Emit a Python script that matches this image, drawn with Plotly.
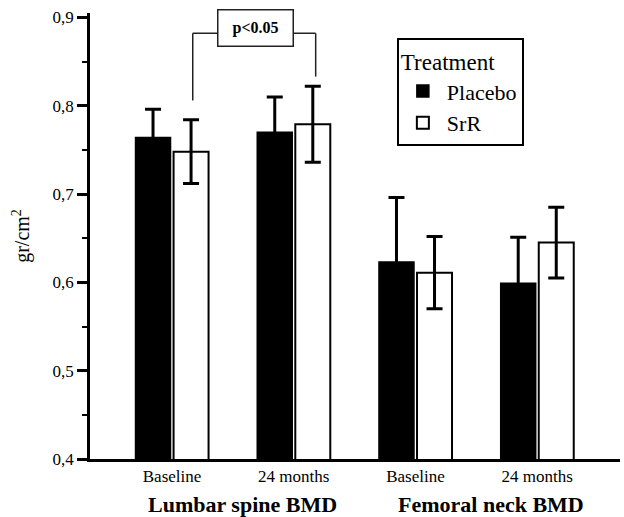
import plotly.graph_objects as go

timepoints = ["Baseline", "24 months", "Baseline", "24 months"]
sites = ["Lumbar spine BMD", "Femoral neck BMD"]
placebo_mean = [0.764, 0.770, 0.623, 0.599]
placebo_sd = [0.032, 0.040, 0.073, 0.052]
srr_mean = [0.748, 0.779, 0.611, 0.645]
srr_sd = [0.036, 0.043, 0.041, 0.040]
xpos = [0, 1, 2, 3]

FONT = "Liberation Serif"

fig = go.Figure()
fig.add_trace(go.Bar(
    x=xpos, y=placebo_mean, name="Placebo",
    marker=dict(color="black", line=dict(color="black", width=1.5)),
    error_y=dict(type="data", array=placebo_sd, visible=True, color="black", thickness=3, width=8),
))
fig.add_trace(go.Bar(
    x=xpos, y=srr_mean, name="SrR",
    marker=dict(color="white", line=dict(color="black", width=2)),
    error_y=dict(type="data", array=srr_sd, visible=True, color="black", thickness=3, width=8),
))

fig.update_layout(
    width=624, height=517,
    margin=dict(l=90, r=4, t=13, b=58),
    paper_bgcolor="white", plot_bgcolor="white",
    barmode="group", bargap=0.375, bargroupgap=0.08,
    separators=",.",
    font=dict(family=FONT, color="black", size=17),
    showlegend=True,
    legend=dict(
        title=dict(text="Treatment", font=dict(size=23, family=FONT, color="black")),
        font=dict(size=22, family=FONT, color="black"),
        x=0.579, y=0.943, xanchor="left", yanchor="top",
        itemwidth=38,
        bordercolor="black", borderwidth=2, bgcolor="white",
    ),
    xaxis=dict(
        range=[-0.674, 3.68],
        tickvals=xpos, ticktext=timepoints,
        showline=True, linecolor="black", linewidth=2.5,
        ticks="", showgrid=False, zeroline=False,
        tickfont=dict(size=17, family=FONT, color="black"),
    ),
    yaxis=dict(
        range=[0.4, 0.905],
        tickvals=[0.4, 0.5, 0.6, 0.7, 0.8, 0.9], tickformat=".1f",
        showline=True, linecolor="black", linewidth=2.5,
        ticks="outside", ticklen=10, tickwidth=2.5, tickcolor="black",
        minor=dict(tickvals=[0.45, 0.55, 0.65, 0.75, 0.85], ticks="outside", ticklen=5, tickwidth=2, tickcolor="black", showgrid=False),
        showgrid=False, zeroline=False,
        tickfont=dict(size=17, family=FONT, color="black"),
        title=dict(text="gr/cm<sup>2</sup>", font=dict(size=20, family=FONT, color="black"), standoff=18),
    ),
)

# group labels
fig.add_annotation(x=0.58, y=-0.101, xref="x", yref="paper", text="<b>" + sites[0] + "</b>",
                   showarrow=False, font=dict(size=22, family=FONT, color="black"), yanchor="middle")
fig.add_annotation(x=2.62, y=-0.101, xref="x", yref="paper", text="<b>" + sites[1] + "</b>",
                   showarrow=False, font=dict(size=22, family=FONT, color="black"), yanchor="middle")

# significance bracket
lc = dict(color="#222", width=1.5)
fig.add_shape(type="line", x0=0.17, x1=0.17, y0=0.806, y1=0.882, xref="x", yref="y", line=lc)
fig.add_shape(type="line", x0=1.18, x1=1.18, y0=0.833, y1=0.882, xref="x", yref="y", line=lc)
fig.add_shape(type="line", x0=0.17, x1=1.18, y0=0.882, y1=0.882, xref="x", yref="y", line=lc)
fig.add_annotation(x=0.683, y=0.888, xref="x", yref="y", text="<b>p<0.05</b>", showarrow=False,
                   font=dict(size=16, family=FONT, color="black"), bgcolor="white", bordercolor="#222", borderwidth=1.5,
                   width=72, height=33)

fig.write_html("out.html")
